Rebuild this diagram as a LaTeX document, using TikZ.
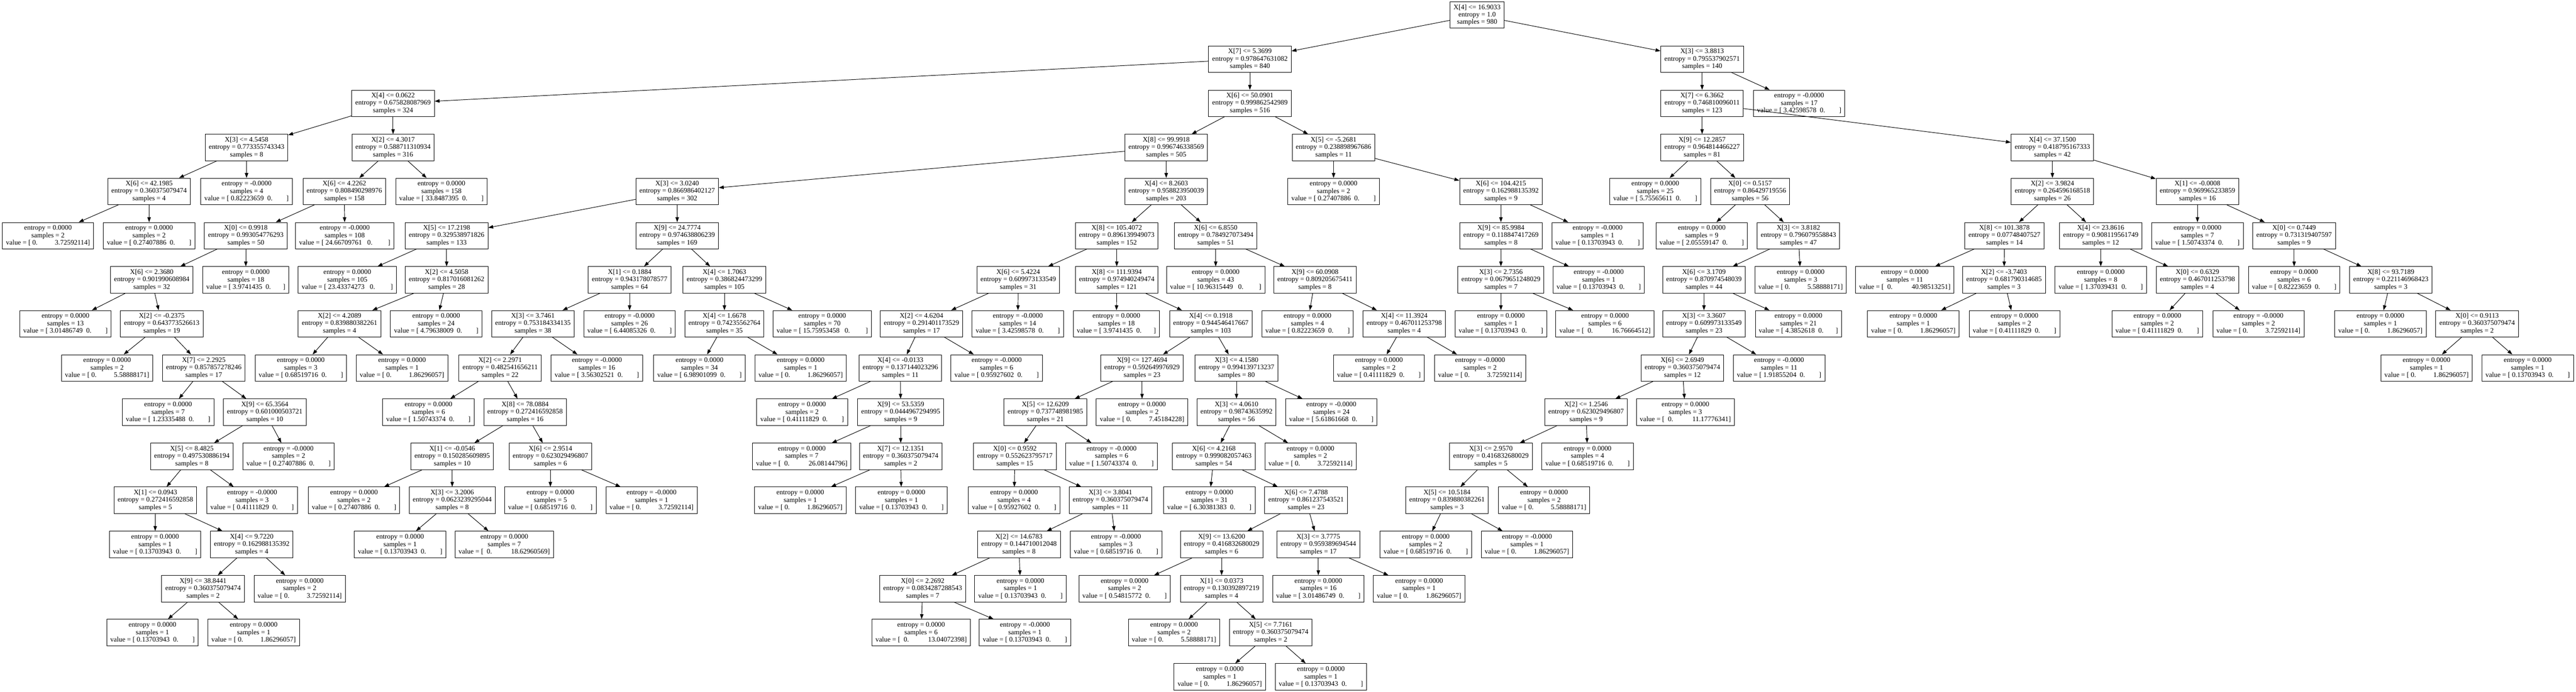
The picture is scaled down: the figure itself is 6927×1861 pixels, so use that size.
\documentclass[tikz,border=0pt]{standalone}
\usepackage{fontspec}
\setmainfont{Liberation Serif}
\usetikzlibrary{arrows.meta}
\def\cond#1#2#3{#1\\entropy = #2\\samples = #3}
\def\pure#1#2#3{entropy = #1\\samples = #2\\value = #3}
\def\lval#1{[ #1~~0.~~~~~~~~]}
\def\slval#1{[ #1~~0.~~~~~~~]}
\def\wlval#1{[ #1~~~0.~~~~~~~~~]}
\def\rval#1{[ 0.~~~~~~~~~~#1]}
\def\wrval#1{[~~0.~~~~~~~~~~~#1]}
\tikzset{
	inode/.style={draw, line width=1pt, align=center, inner xsep=7.25pt, inner ysep=2pt, minimum height=53.25pt, font=\fontsize{14}{15}\selectfont},
	lnode/.style={inode},
	link/.style={line width=1pt, -{Triangle[length=10pt,width=7pt]}}
}

\begin{document}
\begin{tikzpicture}[x=0.75pt, y=-0.75pt]
			%%%%% START %%%%%
			\useasboundingbox (0, 0) rectangle (6927, 1861);
			
			\node[inode] (n0) at (3972, 40.5) {\cond{X[4] <= 16.9033}{1.0}{980}};
			
			\node[inode] (n1) at (3361, 159) {\cond{X[7] <= 5.3699}{0.978647631082}{840}};
			\node[inode] (n2) at (4577, 159) {\cond{X[3] <= 3.8813}{0.795537902571}{140}};
			
			\node[inode] (n3) at (1057, 278) {\cond{X[4] <= 0.0622}{0.675828087969}{324}};
			\node[inode] (n4) at (3361, 278) {\cond{X[6] <= 50.0901}{0.999862542989}{516}};
			\node[inode] (n5) at (4577, 278) {\cond{X[7] <= 6.3662}{0.746810096011}{123}};
			\node[lnode] (n6) at (4838, 278) {\pure{-0.0000}{17}{\lval{3.42598578}}};
			
			\node[inode] (n7) at (663, 397) {\cond{X[3] <= 4.5458}{0.773355743343}{8}};
			\node[inode] (n8) at (1057, 397) {\cond{X[2] <= 4.3017}{0.588711310934}{316}};
			\node[inode] (n9) at (3136, 397) {\cond{X[8] <= 99.9918}{0.996746338569}{505}};
			\node[inode] (n10) at (3586, 397) {\cond{X[5] <= -5.2681}{0.238898967686}{11}};
			\node[inode] (n11) at (4577, 397) {\cond{X[9] <= 12.2857}{0.964814466227}{81}};
			\node[inode] (n12) at (5519, 397) {\cond{X[4] <= 37.1500}{0.418795167333}{42}};
			
			\node[inode] (n13) at (401, 515) {\cond{X[6] <= 42.1985}{0.360375079474}{4}};
			\node[lnode] (n14) at (663, 515) {\pure{-0.0000}{4}{\lval{0.82223659}}};
			\node[inode] (n15) at (926, 515) {\cond{X[6] <= 4.2262}{0.808490298976}{158}};
			\node[lnode] (n16) at (1187, 515) {\pure{0.0000}{158}{\lval{33.8487395}}};
			\node[inode] (n17) at (1821, 515) {\cond{X[3] <= 3.0240}{0.866986402127}{302}};
			\node[inode] (n18) at (3136, 515) {\cond{X[4] <= 8.2603}{0.958823950039}{203}};
			\node[lnode] (n19) at (3586, 515) {\pure{0.0000}{2}{\lval{0.27407886}}};
			\node[inode] (n20) at (4036, 515) {\cond{X[6] <= 104.4215}{0.162988135392}{9}};
			\node[lnode] (n21) at (4451, 515) {\pure{0.0000}{25}{\lval{5.75565611}}};
			\node[inode] (n22) at (4706, 515) {\cond{X[0] <= 0.5157}{0.86429719556}{56}};
			\node[inode] (n23) at (5519, 515) {\cond{X[2] <= 3.9824}{0.264596168518}{26}};
			\node[inode] (n24) at (5909, 515) {\cond{X[1] <= -0.0008}{0.969965233859}{16}};
			
			\node[lnode] (n25) at (129, 634) {\pure{0.0000}{2}{\rval{3.72592114}}};
			\node[lnode] (n26) at (401, 634) {\pure{0.0000}{2}{\lval{0.27407886}}};
			\node[inode] (n27) at (661, 634) {\cond{X[0] <= 0.9918}{0.993054776293}{50}};
			\node[lnode] (n28) at (927, 634) {\pure{-0.0000}{108}{\wlval{24.66709761}}};
			\node[inode] (n29) at (1201, 634) {\cond{X[5] <= 17.2198}{0.329538971826}{133}};
			\node[inode] (n30) at (1821, 634) {\cond{X[9] <= 24.7774}{0.974638806239}{169}};
			\node[inode] (n31) at (3003, 634) {\cond{X[8] <= 105.4072}{0.896139949073}{152}};
			\node[inode] (n32) at (3269, 634) {\cond{X[6] <= 6.8550}{0.784927073494}{51}};
			\node[inode] (n33) at (4036, 634) {\cond{X[9] <= 85.9984}{0.118847417269}{8}};
			\node[lnode] (n34) at (4296, 634) {\pure{-0.0000}{1}{\lval{0.13703943}}};
			\node[lnode] (n35) at (4576, 634) {\pure{0.0000}{9}{\lval{2.05559147}}};
			\node[inode] (n36) at (4836, 634) {\cond{X[3] <= 3.8182}{0.796079558843}{47}};
			\node[inode] (n37) at (5390, 634) {\cond{X[8] <= 101.3878}{0.07748407527}{14}};
			\node[inode] (n38) at (5649, 634) {\cond{X[4] <= 23.8616}{0.908119561749}{12}};
			\node[lnode] (n39) at (5909, 634) {\pure{0.0000}{7}{\lval{1.50743374}}};
			\node[inode] (n40) at (6169, 634) {\cond{X[0] <= 0.7449}{0.731319407597}{9}};
			
			\node[inode] (n41) at (408, 753) {\cond{X[6] <= 2.3680}{0.901990608984}{32}};
			\node[lnode] (n42) at (661, 753) {\pure{0.0000}{18}{\slval{3.9741435}}};
			\node[lnode] (n43) at (934, 753) {\pure{0.0000}{105}{\wlval{23.43374273}}};
			\node[inode] (n44) at (1201, 753) {\cond{X[2] <= 4.5058}{0.817016081262}{28}};
			\node[inode] (n45) at (1693, 753) {\cond{X[1] <= 0.1884}{0.943178078577}{64}};
			\node[inode] (n46) at (1948, 753) {\cond{X[4] <= 1.7063}{0.386824473299}{105}};
			\node[inode] (n47) at (2738, 753) {\cond{X[6] <= 5.4224}{0.609973133549}{31}};
			\node[inode] (n48) at (3003, 753) {\cond{X[8] <= 111.9394}{0.974940249474}{121}};
			\node[lnode] (n49) at (3269, 753) {\pure{0.0000}{43}{\wlval{10.96315449}}};
			\node[inode] (n50) at (3536, 753) {\cond{X[9] <= 60.0908}{0.809205675411}{8}};
			\node[inode] (n51) at (4036, 753) {\cond{X[3] <= 2.7356}{0.0679651248029}{7}};
			\node[lnode] (n52) at (4299, 753) {\pure{-0.0000}{1}{\lval{0.13703943}}};
			\node[inode] (n53) at (4582, 753) {\cond{X[6] <= 3.1709}{0.870974548039}{44}};
			\node[lnode] (n54) at (4842, 753) {\pure{0.0000}{3}{\rval{5.58888171}}};
			\node[lnode] (n55) at (5122, 753) {\pure{0.0000}{11}{\wrval{40.98513251}}};
			\node[inode] (n56) at (5389, 753) {\cond{X[2] <= -3.7403}{0.681790314685}{3}};
			\node[lnode] (n57) at (5649, 753) {\pure{0.0000}{8}{\lval{1.37039431}}};
			\node[inode] (n58) at (5909, 753) {\cond{X[0] <= 0.6329}{0.467011253798}{4}};
			\node[lnode] (n59) at (6169, 753) {\pure{0.0000}{6}{\lval{0.82223659}}};
			\node[inode] (n60) at (6429, 753) {\cond{X[8] <= 93.7189}{0.221146968423}{3}};
			
			\node[lnode] (n61) at (176, 871) {\pure{0.0000}{13}{\lval{3.01486749}}};
			\node[inode] (n62) at (435, 871) {\cond{X[2] <= -0.2375}{0.643773526613}{19}};
			\node[inode] (n63) at (913, 871) {\cond{X[2] <= 4.2089}{0.839880382261}{4}};
			\node[lnode] (n64) at (1173, 871) {\pure{0.0000}{24}{\lval{4.79638009}}};
			\node[inode] (n65) at (1433, 871) {\cond{X[3] <= 3.7461}{0.753184334135}{38}};
			\node[lnode] (n66) at (1693, 871) {\pure{-0.0000}{26}{\lval{6.44085326}}};
			\node[inode] (n67) at (1948, 871) {\cond{X[4] <= 1.6678}{0.74235562764}{35}};
			\node[lnode] (n68) at (2211, 871) {\pure{0.0000}{70}{\wlval{15.75953458}}};
			\node[inode] (n69) at (2478, 871) {\cond{X[2] <= 4.6204}{0.291401173529}{17}};
			\node[lnode] (n70) at (2737, 871) {\pure{-0.0000}{14}{\lval{3.42598578}}};
			\node[lnode] (n71) at (3002, 871) {\pure{0.0000}{18}{\slval{3.9741435}}};
			\node[inode] (n72) at (3256, 871) {\cond{X[4] <= 0.1918}{0.944546417667}{103}};
			\node[lnode] (n73) at (3516, 871) {\pure{0.0000}{4}{\lval{0.82223659}}};
			\node[inode] (n74) at (3776, 871) {\cond{X[4] <= 11.3924}{0.467011253798}{4}};
			\node[lnode] (n75) at (4036, 871) {\pure{0.0000}{1}{\lval{0.13703943}}};
			\node[lnode] (n76) at (4316, 871) {\pure{0.0000}{6}{\wrval{16.76664512}}};
			\node[inode] (n77) at (4582, 871) {\cond{X[3] <= 3.3607}{0.609973133549}{23}};
			\node[lnode] (n78) at (4836, 871) {\pure{0.0000}{21}{\slval{4.3852618}}};
			\node[lnode] (n79) at (5145, 871) {\pure{0.0000}{1}{\rval{1.86296057}}};
			\node[lnode] (n80) at (5417, 871) {\pure{0.0000}{2}{\lval{0.41111829}}};
			\node[lnode] (n81) at (5801, 871) {\pure{0.0000}{2}{\lval{0.41111829}}};
			\node[lnode] (n82) at (6073, 871) {\pure{-0.0000}{2}{\rval{3.72592114}}};
			\node[lnode] (n83) at (6401, 871) {\pure{0.0000}{1}{\rval{1.86296057}}};
			\node[inode] (n84) at (6661, 871) {\cond{X[0] <= 0.9113}{0.360375079474}{2}};
			
			\node[lnode] (n85) at (288, 990) {\pure{0.0000}{2}{\rval{5.58888171}}};
			\node[inode] (n86) at (548, 990) {\cond{X[7] <= 2.2925}{0.857857278246}{17}};
			\node[lnode] (n87) at (809, 990) {\pure{0.0000}{3}{\lval{0.68519716}}};
			\node[lnode] (n88) at (1081, 990) {\pure{0.0000}{1}{\rval{1.86296057}}};
			\node[inode] (n89) at (1345, 990) {\cond{X[2] <= 2.2971}{0.482541656211}{22}};
			\node[lnode] (n90) at (1605, 990) {\pure{-0.0000}{16}{\lval{3.56302521}}};
			\node[lnode] (n91) at (1881, 990) {\pure{0.0000}{34}{\lval{6.98901099}}};
			\node[lnode] (n92) at (2153, 990) {\pure{0.0000}{1}{\rval{1.86296057}}};
			\node[inode] (n93) at (2421, 990) {\cond{X[4] <= -0.0133}{0.137144023296}{11}};
			\node[lnode] (n94) at (2680, 990) {\pure{-0.0000}{6}{\lval{0.95927602}}};
			\node[inode] (n95) at (3071, 990) {\cond{X[9] <= 127.4694}{0.592649976929}{23}};
			\node[inode] (n96) at (3325, 990) {\cond{X[3] <= 4.1580}{0.994139713237}{80}};
			\node[lnode] (n97) at (3708, 990) {\pure{0.0000}{2}{\lval{0.41111829}}};
			\node[lnode] (n98) at (3980, 990) {\pure{-0.0000}{2}{\rval{3.72592114}}};
			\node[inode] (n99) at (4524, 990) {\cond{X[6] <= 2.6949}{0.360375079474}{12}};
			\node[lnode] (n100) at (4784, 990) {\pure{-0.0000}{11}{\lval{1.91855204}}};
			\node[lnode] (n101) at (6525, 990) {\pure{0.0000}{1}{\rval{1.86296057}}};
			\node[lnode] (n102) at (6797, 990) {\pure{0.0000}{1}{\lval{0.13703943}}};
			
			\node[lnode] (n103) at (452, 1109) {\pure{0.0000}{7}{\lval{1.23335488}}};
			\node[inode] (n104) at (712, 1109) {\cond{X[9] <= 65.3564}{0.601000503721}{10}};
			\node[lnode] (n105) at (1152, 1109) {\pure{0.0000}{6}{\lval{1.50743374}}};
			\node[inode] (n106) at (1412, 1109) {\cond{X[8] <= 78.0884}{0.272416592858}{16}};
			\node[lnode] (n107) at (2157, 1109) {\pure{0.0000}{2}{\lval{0.41111829}}};
			\node[inode] (n108) at (2422, 1109) {\cond{X[9] <= 53.5359}{0.0444967294995}{9}};
			\node[inode] (n109) at (2811, 1109) {\cond{X[5] <= 12.6209}{0.737748981985}{21}};
			\node[lnode] (n110) at (3071, 1109) {\pure{0.0000}{2}{\rval{7.45184228}}};
			\node[inode] (n111) at (3325, 1109) {\cond{X[3] <= 4.0610}{0.98743635992}{56}};
			\node[lnode] (n112) at (3580, 1109) {\pure{-0.0000}{24}{\lval{5.61861668}}};
			\node[inode] (n113) at (4265, 1109) {\cond{X[2] <= 1.2546}{0.623029496807}{9}};
			\node[lnode] (n114) at (4532, 1109) {\pure{0.0000}{3}{\wrval{11.17776341}}};
			
			\node[inode] (n115) at (516, 1228) {\cond{X[5] <= 8.4825}{0.497530886194}{8}};
			\node[lnode] (n116) at (776, 1228) {\pure{-0.0000}{2}{\lval{0.27407886}}};
			\node[inode] (n117) at (1216, 1228) {\cond{X[1] <= -0.0546}{0.150285609895}{10}};
			\node[inode] (n118) at (1480, 1228) {\cond{X[6] <= 2.9514}{0.623029496807}{6}};
			\node[lnode] (n119) at (2156, 1228) {\pure{0.0000}{7}{\wrval{26.08144796}}};
			\node[inode] (n120) at (2422, 1228) {\cond{X[7] <= 12.1351}{0.360375079474}{2}};
			\node[inode] (n121) at (2729, 1228) {\cond{X[0] <= 0.9592}{0.552623795717}{15}};
			\node[lnode] (n122) at (2989, 1228) {\pure{-0.0000}{6}{\lval{1.50743374}}};
			\node[inode] (n123) at (3264, 1228) {\cond{X[6] <= 4.2168}{0.999082057463}{54}};
			\node[lnode] (n124) at (3524, 1228) {\pure{0.0000}{2}{\rval{3.72592114}}};
			\node[inode] (n125) at (4009, 1228) {\cond{X[3] <= 2.9570}{0.416832680029}{5}};
			\node[lnode] (n126) at (4269, 1228) {\pure{0.0000}{4}{\lval{0.68519716}}};
			
			\node[inode] (n127) at (418, 1346) {\cond{X[1] <= 0.0943}{0.272416592858}{5}};
			\node[lnode] (n128) at (678, 1346) {\pure{-0.0000}{3}{\lval{0.41111829}}};
			\node[lnode] (n129) at (952, 1346) {\pure{0.0000}{2}{\lval{0.27407886}}};
			\node[inode] (n130) at (1216, 1346) {\cond{X[3] <= 3.2006}{0.0623239295044}{8}};
			\node[lnode] (n131) at (1480, 1346) {\pure{0.0000}{5}{\lval{0.68519716}}};
			\node[lnode] (n132) at (1752, 1346) {\pure{-0.0000}{1}{\rval{3.72592114}}};
			\node[lnode] (n133) at (2152, 1346) {\pure{0.0000}{1}{\rval{1.86296057}}};
			\node[lnode] (n134) at (2424, 1346) {\pure{0.0000}{1}{\lval{0.13703943}}};
			\node[lnode] (n135) at (2727, 1346) {\pure{0.0000}{4}{\lval{0.95927602}}};
			\node[inode] (n136) at (2986, 1346) {\cond{X[3] <= 3.8041}{0.360375079474}{11}};
			\node[lnode] (n137) at (3252, 1346) {\pure{0.0000}{31}{\lval{6.30381383}}};
			\node[inode] (n138) at (3512, 1346) {\cond{X[6] <= 7.4788}{0.861237543521}{23}};
			\node[inode] (n139) at (3891, 1346) {\cond{X[5] <= 10.5184}{0.839880382261}{3}};
			\node[lnode] (n140) at (4152, 1346) {\pure{0.0000}{2}{\rval{5.58888171}}};
			
			\node[lnode] (n141) at (417, 1465) {\pure{0.0000}{1}{\lval{0.13703943}}};
			\node[inode] (n142) at (677, 1465) {\cond{X[4] <= 9.7220}{0.162988135392}{4}};
			\node[lnode] (n143) at (1076, 1465) {\pure{0.0000}{1}{\lval{0.13703943}}};
			\node[lnode] (n144) at (1356, 1465) {\pure{0.0000}{7}{\wrval{18.62960569}}};
			\node[inode] (n145) at (2740, 1465) {\cond{X[2] <= 14.6783}{0.144710012048}{8}};
			\node[lnode] (n146) at (3001, 1465) {\pure{-0.0000}{3}{\lval{0.68519716}}};
			\node[inode] (n147) at (3285, 1465) {\cond{X[9] <= 13.6200}{0.416832680029}{6}};
			\node[inode] (n148) at (3545, 1465) {\cond{X[3] <= 3.7775}{0.959389694544}{17}};
			\node[lnode] (n149) at (3834, 1465) {\pure{0.0000}{2}{\lval{0.68519716}}};
			\node[lnode] (n150) at (4106, 1465) {\pure{-0.0000}{1}{\rval{1.86296057}}};
			
			\node[inode] (n151) at (546, 1584) {\cond{X[9] <= 38.8441}{0.360375079474}{2}};
			\node[lnode] (n152) at (806, 1584) {\pure{0.0000}{2}{\rval{3.72592114}}};
			\node[inode] (n153) at (2481, 1584) {\cond{X[0] <= 2.2692}{0.0834287288543}{7}};
			\node[lnode] (n154) at (2744, 1584) {\pure{0.0000}{1}{\lval{0.13703943}}};
			\node[lnode] (n155) at (3024, 1584) {\pure{0.0000}{2}{\lval{0.54815772}}};
			\node[inode] (n156) at (3285, 1584) {\cond{X[1] <= 0.0373}{0.130392897219}{4}};
			\node[lnode] (n157) at (3545, 1584) {\pure{0.0000}{16}{\lval{3.01486749}}};
			\node[lnode] (n158) at (3816, 1584) {\pure{0.0000}{1}{\rval{1.86296057}}};
			
			\node[lnode] (n159) at (410, 1702) {\pure{0.0000}{1}{\lval{0.13703943}}};
			\node[lnode] (n160) at (682, 1702) {\pure{0.0000}{1}{\rval{1.86296057}}};
			\node[lnode] (n161) at (2477, 1702) {\pure{0.0000}{6}{\wrval{13.04072398}}};
			\node[lnode] (n162) at (2756, 1702) {\pure{-0.0000}{1}{\lval{0.13703943}}};
			\node[lnode] (n163) at (3157, 1702) {\pure{0.0000}{2}{\rval{5.58888171}}};
			\node[inode] (n164) at (3417, 1702) {\cond{X[5] <= 7.7161}{0.360375079474}{2}};
			
			\node[lnode] (n165) at (3280, 1821) {\pure{0.0000}{1}{\rval{1.86296057}}};
			\node[lnode] (n166) at (3552, 1821) {\pure{0.0000}{1}{\lval{0.13703943}}};
			
			% edges
			\draw[link] (n0) -- (n1); \draw[link] (n0) -- (n2);
			\draw[link] (n1) -- (n3); \draw[link] (n1) -- (n4);
			\draw[link] (n2) -- (n5); \draw[link] (n2) -- (n6);
			\draw[link] (n3) -- (n7); \draw[link] (n3) -- (n8);
			\draw[link] (n4) -- (n9); \draw[link] (n4) -- (n10);
			\draw[link] (n5) -- (n11); \draw[link] (n5) -- (n12);
			\draw[link] (n7) -- (n13); \draw[link] (n7) -- (n14);
			\draw[link] (n8) -- (n15); \draw[link] (n8) -- (n16);
			\draw[link] (n9) -- (n17); \draw[link] (n9) -- (n18);
			\draw[link] (n10) -- (n19); \draw[link] (n10) -- (n20);
			\draw[link] (n11) -- (n21); \draw[link] (n11) -- (n22);
			\draw[link] (n12) -- (n23); \draw[link] (n12) -- (n24);
			\draw[link] (n13) -- (n25); \draw[link] (n13) -- (n26);
			\draw[link] (n15) -- (n27); \draw[link] (n15) -- (n28);
			\draw[link] (n17) -- (n29); \draw[link] (n17) -- (n30);
			\draw[link] (n18) -- (n31); \draw[link] (n18) -- (n32);
			\draw[link] (n20) -- (n33); \draw[link] (n20) -- (n34);
			\draw[link] (n22) -- (n35); \draw[link] (n22) -- (n36);
			\draw[link] (n23) -- (n37); \draw[link] (n23) -- (n38);
			\draw[link] (n24) -- (n39); \draw[link] (n24) -- (n40);
			\draw[link] (n27) -- (n41); \draw[link] (n27) -- (n42);
			\draw[link] (n29) -- (n43); \draw[link] (n29) -- (n44);
			\draw[link] (n30) -- (n45); \draw[link] (n30) -- (n46);
			\draw[link] (n31) -- (n47); \draw[link] (n31) -- (n48);
			\draw[link] (n32) -- (n49); \draw[link] (n32) -- (n50);
			\draw[link] (n33) -- (n51); \draw[link] (n33) -- (n52);
			\draw[link] (n36) -- (n53); \draw[link] (n36) -- (n54);
			\draw[link] (n37) -- (n55); \draw[link] (n37) -- (n56);
			\draw[link] (n38) -- (n57); \draw[link] (n38) -- (n58);
			\draw[link] (n40) -- (n59); \draw[link] (n40) -- (n60);
			\draw[link] (n41) -- (n61); \draw[link] (n41) -- (n62);
			\draw[link] (n44) -- (n63); \draw[link] (n44) -- (n64);
			\draw[link] (n45) -- (n65); \draw[link] (n45) -- (n66);
			\draw[link] (n46) -- (n67); \draw[link] (n46) -- (n68);
			\draw[link] (n47) -- (n69); \draw[link] (n47) -- (n70);
			\draw[link] (n48) -- (n71); \draw[link] (n48) -- (n72);
			\draw[link] (n50) -- (n73); \draw[link] (n50) -- (n74);
			\draw[link] (n51) -- (n75); \draw[link] (n51) -- (n76);
			\draw[link] (n53) -- (n77); \draw[link] (n53) -- (n78);
			\draw[link] (n56) -- (n79); \draw[link] (n56) -- (n80);
			\draw[link] (n58) -- (n81); \draw[link] (n58) -- (n82);
			\draw[link] (n60) -- (n83); \draw[link] (n60) -- (n84);
			\draw[link] (n62) -- (n85); \draw[link] (n62) -- (n86);
			\draw[link] (n63) -- (n87); \draw[link] (n63) -- (n88);
			\draw[link] (n65) -- (n89); \draw[link] (n65) -- (n90);
			\draw[link] (n67) -- (n91); \draw[link] (n67) -- (n92);
			\draw[link] (n69) -- (n93); \draw[link] (n69) -- (n94);
			\draw[link] (n72) -- (n95); \draw[link] (n72) -- (n96);
			\draw[link] (n74) -- (n97); \draw[link] (n74) -- (n98);
			\draw[link] (n77) -- (n99); \draw[link] (n77) -- (n100);
			\draw[link] (n84) -- (n101); \draw[link] (n84) -- (n102);
			\draw[link] (n86) -- (n103); \draw[link] (n86) -- (n104);
			\draw[link] (n89) -- (n105); \draw[link] (n89) -- (n106);
			\draw[link] (n93) -- (n107); \draw[link] (n93) -- (n108);
			\draw[link] (n95) -- (n109); \draw[link] (n95) -- (n110);
			\draw[link] (n96) -- (n111); \draw[link] (n96) -- (n112);
			\draw[link] (n99) -- (n113); \draw[link] (n99) -- (n114);
			\draw[link] (n104) -- (n115); \draw[link] (n104) -- (n116);
			\draw[link] (n106) -- (n117); \draw[link] (n106) -- (n118);
			\draw[link] (n108) -- (n119); \draw[link] (n108) -- (n120);
			\draw[link] (n109) -- (n121); \draw[link] (n109) -- (n122);
			\draw[link] (n111) -- (n123); \draw[link] (n111) -- (n124);
			\draw[link] (n113) -- (n125); \draw[link] (n113) -- (n126);
			\draw[link] (n115) -- (n127); \draw[link] (n115) -- (n128);
			\draw[link] (n117) -- (n129); \draw[link] (n117) -- (n130);
			\draw[link] (n118) -- (n131); \draw[link] (n118) -- (n132);
			\draw[link] (n120) -- (n133); \draw[link] (n120) -- (n134);
			\draw[link] (n121) -- (n135); \draw[link] (n121) -- (n136);
			\draw[link] (n123) -- (n137); \draw[link] (n123) -- (n138);
			\draw[link] (n125) -- (n139); \draw[link] (n125) -- (n140);
			\draw[link] (n127) -- (n141); \draw[link] (n127) -- (n142);
			\draw[link] (n130) -- (n143); \draw[link] (n130) -- (n144);
			\draw[link] (n136) -- (n145); \draw[link] (n136) -- (n146);
			\draw[link] (n138) -- (n147); \draw[link] (n138) -- (n148);
			\draw[link] (n139) -- (n149); \draw[link] (n139) -- (n150);
			\draw[link] (n142) -- (n151); \draw[link] (n142) -- (n152);
			\draw[link] (n145) -- (n153); \draw[link] (n145) -- (n154);
			\draw[link] (n147) -- (n155); \draw[link] (n147) -- (n156);
			\draw[link] (n148) -- (n157); \draw[link] (n148) -- (n158);
			\draw[link] (n151) -- (n159); \draw[link] (n151) -- (n160);
			\draw[link] (n153) -- (n161); \draw[link] (n153) -- (n162);
			\draw[link] (n156) -- (n163); \draw[link] (n156) -- (n164);
			\draw[link] (n164) -- (n165); \draw[link] (n164) -- (n166);
			
			%%%%% END %%%%%
\end{tikzpicture}
\end{document}
